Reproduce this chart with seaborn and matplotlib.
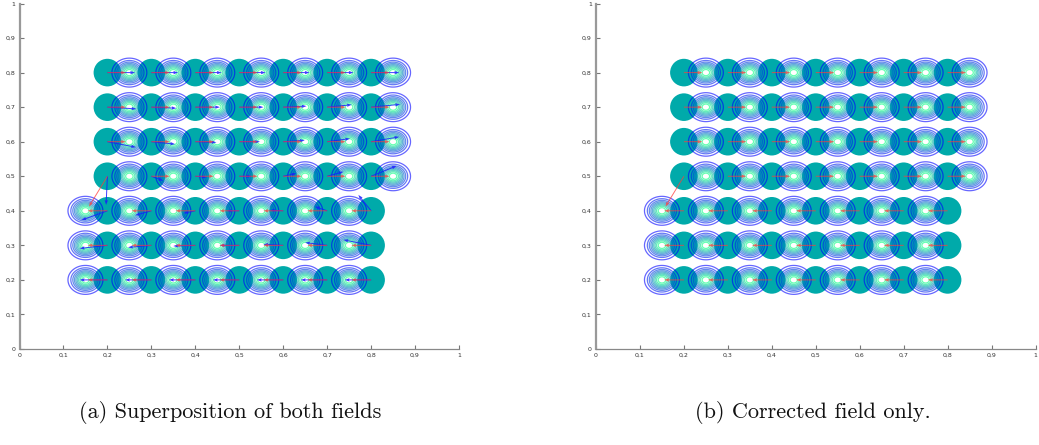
import numpy as np
import pandas as pd
import matplotlib
matplotlib.use("Agg")
import matplotlib.pyplot as plt
import seaborn as sns

sns.set_theme(style="ticks")

# Grid of particle centres
col_x = [0.2, 0.3, 0.4, 0.5, 0.6, 0.7, 0.8]
row_y = [0.8, 0.7, 0.6, 0.5, 0.4, 0.3, 0.2]

# Horizontal offset of each row's target blob relative to the particles
blob_shift = [0.05, 0.05, 0.05, 0.05, -0.05, -0.05, -0.05]
blob_sigma_x = 0.0185
blob_sigma_y = 0.0195
blob_levels = [0.1, 0.2, 0.3, 0.4, 0.5, 0.6, 0.7, 0.8, 0.9]

# Corrected displacement field (u, v) per row, one entry per column
corr_u = [
    [0.042, 0.042, 0.042, 0.042, 0.042, 0.042, 0.042],
    [0.042, 0.042, 0.042, 0.042, 0.042, 0.042, 0.042],
    [0.042, 0.042, 0.042, 0.042, 0.042, 0.042, 0.042],
    [-0.042, 0.042, 0.042, 0.042, 0.042, 0.042, 0.042],
    [-0.045, -0.045, -0.045, -0.045, -0.045, -0.045, -0.045],
    [-0.045, -0.045, -0.045, -0.045, -0.045, -0.045, -0.045],
    [-0.045, -0.045, -0.045, -0.045, -0.045, -0.045, -0.045],
]
corr_v = [
    [0.0, 0.0, 0.0, 0.0, 0.0, 0.0, 0.0],
    [0.0, 0.0, 0.0, 0.0, 0.0, 0.0, 0.0],
    [0.0, 0.0, 0.0, 0.0, 0.0, 0.0, 0.0],
    [-0.088, 0.0, 0.0, 0.0, 0.0, 0.0, 0.0],
    [0.0, 0.0, 0.0, 0.0, 0.0, 0.0, 0.0],
    [0.0, 0.0, 0.0, 0.0, 0.0, 0.0, 0.0],
    [0.0, 0.0, 0.0, 0.0, 0.0, 0.0, 0.0],
]

# Superposed (raw) displacement field
sup_u = [
    [0.063, 0.061, 0.060, 0.060, 0.060, 0.060, 0.064],
    [0.066, 0.057, 0.056, 0.055, 0.053, 0.056, 0.066],
    [0.065, 0.054, 0.048, 0.047, 0.049, 0.052, 0.064],
    [-0.003, 0.027, 0.026, 0.028, 0.030, 0.037, 0.058],
    [-0.059, -0.037, -0.027, -0.028, -0.030, -0.028, -0.029],
    [-0.063, -0.053, -0.050, -0.044, -0.045, -0.050, -0.063],
    [-0.063, -0.060, -0.060, -0.060, -0.060, -0.060, -0.060],
]
sup_v = [
    [0.0, 0.0, 0.0, 0.0, 0.0, 0.0, 0.0],
    [-0.005, -0.003, 0.0, 0.0, 0.003, 0.007, 0.008],
    [-0.016, -0.007, -0.002, 0.0, 0.004, 0.009, 0.014],
    [-0.083, -0.013, -0.003, 0.0, 0.008, 0.013, 0.030],
    [-0.027, -0.013, -0.007, 0.0, 0.002, 0.012, 0.046],
    [-0.009, -0.006, -0.002, 0.0, 0.003, 0.008, 0.016],
    [0.0, 0.0, 0.0, 0.0, 0.0, 0.0, 0.0],
]

captions = ["(a) Superposition of both fields", "(b) Corrected field only."]

# Long-form table of particles
rows = []
for i, y in enumerate(row_y):
    for j, x in enumerate(col_x):
        rows.append(dict(x=x, y=y, bx=x + blob_shift[i], by=y,
                         cu=corr_u[i][j], cv=corr_v[i][j],
                         su=sup_u[i][j], sv=sup_v[i][j]))
df = pd.DataFrame(rows)

# Target density field: one gaussian blob per particle
gx = np.linspace(0, 1, 1100)
gy = np.linspace(0, 1, 1100)
GX, GY = np.meshgrid(gx, gy)
Z = np.zeros_like(GX)
for bx, by in zip(df["bx"], df["by"]):
    Z = np.maximum(Z, np.exp(-0.5 * (((GX - bx) / blob_sigma_x) ** 2
                                     + ((GY - by) / blob_sigma_y) ** 2)))

W, H = 1039, 445
fig = plt.figure(figsize=(W / 100, H / 100), dpi=100)
ax_w = (459 - 19.5) / W
ax_h = (349 - 3.5) / H
ax_b = (H - 349) / H
axes = [fig.add_axes([19.5 / W, ax_b, ax_w, ax_h]),
        fig.add_axes([596 / W, ax_b, ax_w, ax_h])]


def fmt(v, _pos):
    if abs(v) < 1e-9:
        return "0"
    if abs(v - 1) < 1e-9:
        return "1"
    return f"{v:.1f}".replace(".", ",")


arrow_kw = dict(angles="xy", scale_units="xy", scale=1, width=0.0022,
                headwidth=3.5, headlength=5, headaxislength=4.5)

for k, ax in enumerate(axes):
    sns.scatterplot(data=df, x="x", y="y", s=395, color="#00aaaa",
                    edgecolor="none", linewidth=0, legend=False, ax=ax, zorder=1)
    ax.contour(GX, GY, Z, levels=blob_levels, cmap="winter",
               linewidths=0.9, alpha=0.6, zorder=2)
    if k == 0:
        ax.quiver(df["x"], df["y"], df["su"], df["sv"], color="#1a1aff",
                  alpha=0.85, zorder=3, **arrow_kw)
    ax.quiver(df["x"], df["y"], df["cu"], df["cv"], color="#ff3b3b",
              alpha=0.75, zorder=4, **arrow_kw)

    ax.set_xlim(0, 1)
    ax.set_ylim(0, 1)
    ax.set_xlabel("")
    ax.set_ylabel("")
    ticks = np.round(np.arange(0, 1.01, 0.1), 1)
    ax.set_xticks(ticks)
    ax.set_yticks(ticks)
    ax.xaxis.set_major_formatter(plt.FuncFormatter(fmt))
    ax.yaxis.set_major_formatter(plt.FuncFormatter(fmt))
    ax.tick_params(direction="in", length=3, width=0.8, colors="#777777",
                   labelsize=4.5, labelcolor="#333333", pad=3)
    for side in ("top", "right"):
        ax.spines[side].set_visible(False)
    ax.spines["left"].set_color("#999999")
    ax.spines["left"].set_linewidth(1.6)
    ax.spines["bottom"].set_color("#888888")
    ax.spines["bottom"].set_linewidth(0.9)
    ax.set_facecolor("white")

fig.text(230 / W, 1 - 412 / H, captions[0], ha="center", va="center",
         fontsize=16, family="cmr10", color="#111111")
fig.text(813 / W, 1 - 412 / H, captions[1], ha="center", va="center",
         fontsize=16, family="cmr10", color="#111111")

fig.savefig("out.png", dpi=100, facecolor="white")
